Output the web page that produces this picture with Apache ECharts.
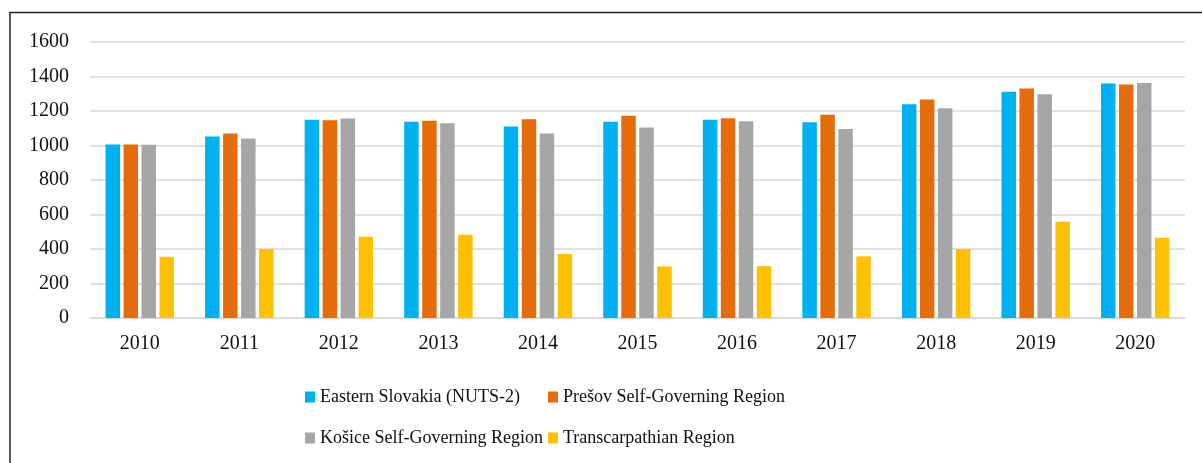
<!DOCTYPE html>
<html>
<head>
<meta charset="utf-8">
<script src="https://cdn.jsdelivr.net/npm/echarts@6/dist/echarts.min.js"></script>
<style>
  html, body { margin: 0; padding: 0; background: #fff; }
  #chart { width: 1202px; height: 463px; }
</style>
</head>
<body>
<div id="chart"></div>
<script>
const years = ['2010', '2011', '2012', '2013', '2014', '2015', '2016', '2017', '2018', '2019', '2020']
const yTicks = [0, 200, 400, 600, 800, 1000, 1200, 1400, 1600]
const easternSlovakia = [1006, 1052, 1150, 1137, 1110, 1137, 1150, 1135, 1239, 1311, 1359]
const presovRegion = [1006, 1069, 1147, 1143, 1152, 1172, 1158, 1178, 1266, 1330, 1353]
const kosiceRegion = [1004, 1040, 1156, 1129, 1069, 1104, 1141, 1096, 1216, 1297, 1363]
const transcarpathian = [355, 400, 471, 483, 371, 299, 301, 357, 400, 558, 465]

const names = [
  'Eastern Slovakia (NUTS-2)',
  'Prešov Self-Governing Region',
  'Košice Self-Governing Region',
  'Transcarpathian Region'
]
const colors = ['#00B0F0', '#E46C0A', '#A6A6A6', '#FFC000']
const values = [easternSlovakia, presovRegion, kosiceRegion, transcarpathian]

const font = '"Liberation Serif", "Times New Roman", serif'

// legend is laid out as 2x2, one legend block per item
const legendPos = [
  { left: 305, top: 387 },
  { left: 548, top: 387 },
  { left: 305, top: 428 },
  { left: 548, top: 428 }
]

const chart = echarts.init(document.getElementById('chart'))

const option = {
  animation: false,
  color: colors,
  graphic: [
    {
      type: 'rect',
      shape: { x: 10, y: 12.5, width: 1300, height: 600 },
      style: { fill: 'none', stroke: '#222', lineWidth: 1.5 },
      silent: true
    }
  ],
  legend: names.map((n, i) => ({
    data: [n],
    left: legendPos[i].left,
    top: legendPos[i].top,
    padding: 0,
    itemWidth: 10,
    itemHeight: 11,
    icon: 'rect',
    textStyle: { fontFamily: font, fontSize: 18, color: '#111', lineHeight: 20 }
  })),
  grid: {
    left: 90,
    right: 17,
    top: 42,
    bottom: 145,
    containLabel: false
  },
  xAxis: {
    type: 'category',
    data: years,
    axisLine: { lineStyle: { color: '#D9D9D9', width: 1.5 } },
    axisTick: { show: false },
    axisLabel: { fontFamily: font, fontSize: 20, color: '#111', margin: 16 }
  },
  yAxis: {
    type: 'value',
    min: yTicks[0],
    max: yTicks[yTicks.length - 1],
    interval: 200,
    axisLine: { show: false },
    axisTick: { show: false },
    splitLine: { lineStyle: { color: '#D9D9D9', width: 1.5 } },
    axisLabel: {
      fontFamily: font,
      fontSize: 20,
      color: '#111',
      margin: 21,
      formatter: v => String(v)
    }
  },
  series: names.map((n, i) => ({
    name: n,
    type: 'bar',
    data: values[i],
    barWidth: 14.5,
    barGap: '24%',
    itemStyle: { color: colors[i] }
  }))
}

chart.setOption(option)
</script>
</body>
</html>
